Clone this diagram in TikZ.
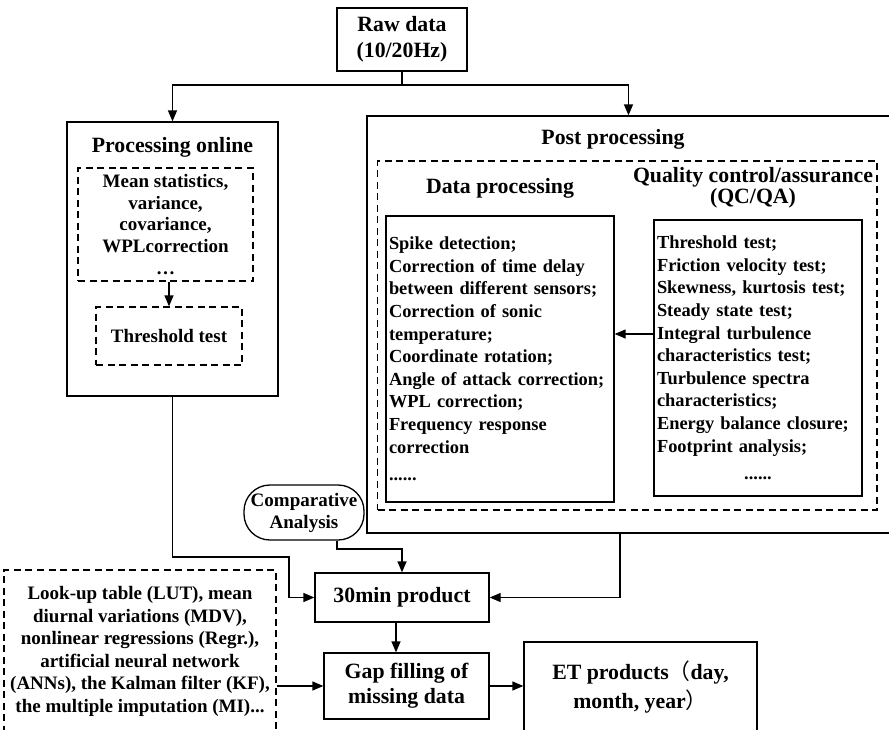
\documentclass[tikz,border=0pt]{standalone}
\usepackage{fontspec}
\setmainfont{Liberation Serif}
\newfontfamily\cjk{Noto Sans CJK SC}
\usetikzlibrary{arrows.meta}
\newcommand\bodyf{\fontsize{19}{22.6}\selectfont\bfseries\hyphenpenalty=10000\exhyphenpenalty=10000}
\newcommand\listf{\fontsize{18.4}{22.6}\selectfont\bfseries\hyphenpenalty=10000\exhyphenpenalty=10000}
\newcommand\titlef{\fontsize{21.8}{26.5}\selectfont\bfseries}
\begin{document}
\begin{tikzpicture}[x=1pt,y=-1pt,
 box/.style={draw, line width=1.3pt, inner sep=0pt, align=center},
 dbox/.style={box, dash pattern=on 7pt off 4.5pt},
 arr/.style={line width=1.3pt, -{Triangle[length=11pt,width=9pt]}},
 ln/.style={line width=1.3pt},
 title/.style={font=\titlef, align=center, inner sep=0pt},
]
\useasboundingbox (0,0) rectangle (889,729);
\fill[white] (0,0) rectangle (889,729);

% Raw data
\node[box, font=\titlef, minimum width=130pt, minimum height=63pt] (raw) at (402,39.5) {Raw data\\(10/20Hz)};

% Processing online
\node[box, minimum width=211pt, minimum height=274pt] (online) at (172.5,259) {};
\node[title] (onlinet) at (172.5,147) {Processing online};
\node[dbox, font=\fontsize{19}{21.7}\selectfont\bfseries, minimum width=175pt, minimum height=113pt] (stat) at (165.5,224.5) {Mean statistics,\\variance,\\covariance,\\WPLcorrection\\…};
\node[dbox, font=\bodyf, minimum width=146pt, minimum height=58pt] (thr) at (169,336) {Threshold test};

% Post processing
\node[box, minimum width=523pt, minimum height=417pt] (post) at (628.5,324.5) {};
\node[title] (postt) at (613,139) {Post processing};
\node[dbox, minimum width=499.5pt, minimum height=349pt] (inner) at (627.25,335.5) {};
\node[title] (datat) at (500,188) {Data processing};
\node[title, font=\fontsize{21.8}{20.5}\selectfont\bfseries] (qct) at (753,188) {Quality control/assurance\\(QC/QA)};
\node[box, font=\listf, align=left, text width=222pt, inner sep=3pt, minimum width=228pt, minimum height=286pt] (data) at (500,359) {Spike detection;\\Correction of time delay\\between different sensors;\\Correction of sonic\\temperature;\\Coordinate rotation;\\Angle of attack correction;\\WPL correction;\\Frequency response\\correction\\[5pt]......};
\node[box, font=\listf, align=left, text width=202pt, inner sep=3pt, minimum width=208pt, minimum height=276pt] (qc) at (758,358) {Threshold test;\\Friction velocity test;\\Skewness, kurtosis test;\\Steady state test;\\Integral turbulence\\characteristics test;\\Turbulence spectra\\characteristics;\\Energy balance closure;\\Footprint analysis;\\[5pt]\makebox[202pt]{......}};
\coordinate (ya) at (0,334);
\draw[arr] (qc.west |- ya) -- (data.east |- ya);

% Comparative analysis
\node[draw, line width=1.3pt, rounded corners=26pt, minimum width=120pt, minimum height=55pt, inner sep=0pt, font=\fontsize{19}{22}\selectfont\bfseries, align=center] (cmp) at (304,512.5) {Comparative\\Analysis};

% Products
\node[box, font=\titlef, minimum width=174pt, minimum height=49pt] (min) at (402,597.5) {30min product};
\node[box, font=\fontsize{21.8}{25}\selectfont\bfseries, minimum width=165pt, minimum height=66pt] (gap) at (406.5,686) {Gap filling of\\missing data};
\node[dbox, font=\bodyf, minimum width=272pt, minimum height=163pt] (gapm) at (140,651.5) {Look-up table (LUT), mean\\diurnal variations (MDV),\\nonlinear regressions (Regr.),\\artificial neural network\\(ANNs), the Kalman filter (KF),\\the multiple imputation (MI)...};
\node[box, font=\fontsize{21.8}{29}\selectfont\bfseries, minimum width=233pt, minimum height=91pt] (et) at (640.5,687.5) {ET products{\cjk\mdseries （}day,\\month, year{\cjk\mdseries ）}};

% Connectors
\coordinate (split) at (402,85);
\draw[ln] (raw.south) -- (split);
\draw[arr] (split) -| (online.north);
\draw[arr] (split) -| (post.north);
\draw[arr] (stat.south -| thr.north) -- (thr.north);
\coordinate (j1) at (289,557);
\draw[arr] (online.south) |- (j1) |- (min.west);
\coordinate (j2) at (337,549);
\draw[arr] ([xshift=33pt]cmp.south) -- (j2) -| (min.north);
\draw[arr] ([xshift=-8.5pt]post.south) |- (min.east);
\draw[arr] ([xshift=-6pt]min.south) -- ([xshift=-6pt]min.south |- gap.north);
\draw[arr] (gapm.east |- gap.west) -- (gap.west);
\draw[arr] (gap.east) -- (et.west |- gap.east);
\end{tikzpicture}
\end{document}
